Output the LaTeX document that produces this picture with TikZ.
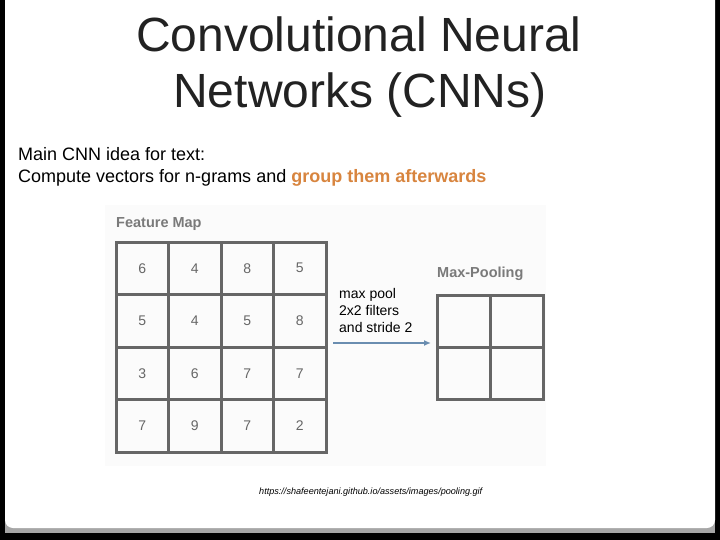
\documentclass[tikz,border=0pt]{standalone}
\usepackage{fontspec}
\setmainfont{Liberation Sans}
\usetikzlibrary{arrows.meta}
\definecolor{gridgray}{HTML}{666666}
\definecolor{labgray}{HTML}{7A7A7A}
\definecolor{numgray}{HTML}{666666}
\definecolor{accent}{HTML}{D8853F}
\definecolor{arrowblue}{HTML}{6A8DB0}
\definecolor{titlecol}{HTML}{222222}
\definecolor{panelbg}{HTML}{FBFBFB}
\tikzset{
  gridline/.style={draw=gridgray, line width=3pt},
  cellnum/.style={text=numgray, font=\fontsize{14}{14}\selectfont, anchor=center, inner sep=0pt},
  maplabel/.style={text=labgray, font=\bfseries\fontsize{14.5}{14.5}\selectfont, anchor=base west, inner sep=0pt},
  titletext/.style={text=titlecol, font=\fontsize{48}{48}\selectfont, anchor=base, inner sep=0pt},
  bodytext/.style={font=\fontsize{18}{18}\selectfont, anchor=base west, inner sep=0pt},
  smalltext/.style={font=\fontsize{14}{17}\selectfont, anchor=base west, inner sep=0pt},
}
\begin{document}
\begin{tikzpicture}[x=1pt,y=-1pt]
\useasboundingbox (0,0) rectangle (720,540);
% slide frame
\fill[black] (0,0) rectangle (720,540);
\fill[gray!70] (5,0) rectangle (715,533);
\fill[white, rounded corners=8pt] (5,-10) rectangle (715,528);
% picture background
\fill[panelbg] (105,205) rectangle (546,466);
% titles
\node[titletext] (t1) at (359,52) {Convolutional Neural};
\node[titletext] (t2) at (360,108) {Networks (CNNs)};
\node[bodytext] (b1) at (18,161) {Main CNN idea for text:};
\node[bodytext] (b2) at (18,183) {Compute vectors for n-grams and \textcolor{accent}{\bfseries group them afterwards}};
% feature map
\node[maplabel] (fm) at (116,228) {Feature Map};
\draw[gridline] (116,242) rectangle (326,452);
\foreach \x in {168.5,221,273.5} \draw[gridline] (\x,242) -- (\x,452);
\foreach \y in {294.5,347,399.5} \draw[gridline] (116,\y) -- (326,\y);
\foreach \r/\vals in {0/{6,4,8,5},1/{5,4,5,8},2/{3,6,7,7},3/{7,9,7,2}} {
  \foreach \v [count=\c from 0] in \vals {
    \node[cellnum] (n\r\c) at ({142.25+52.5*\c},{268.25+52.5*\r}) {\v};
  }
}
% max pooling
\node[maplabel] (mp) at (437,277) {Max-Pooling};
\draw[gridline] (437,295) rectangle (543,399);
\draw[gridline] (490,295) -- (490,399);
\draw[gridline] (437,347) -- (543,347);
\coordinate (as) at (333,343);
\coordinate (ae) at (431,343);
\draw[arrowblue, line width=1.5pt, -{Latex[length=7pt,width=6pt]}] (as) -- (ae);
\node[smalltext, align=left, anchor=base west] (mpt) at (339,332) {max pool\\2x2 filters\\and stride 2};
% url
\node[font=\itshape\fontsize{9.1}{9.1}\selectfont, anchor=base west, inner sep=0pt] (url) at (259,494) {https://shafeentejani.github.io/assets/images/pooling.gif};
\end{tikzpicture}
\end{document}
